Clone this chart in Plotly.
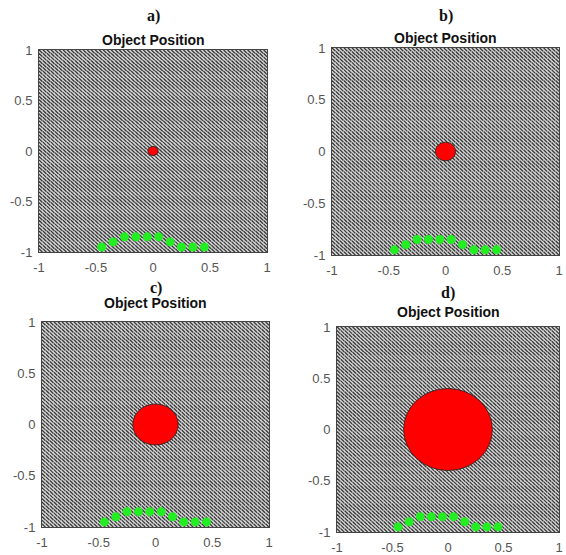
import numpy as np
import plotly.graph_objects as go

# ---- data ----
panel_labels = ["a)", "b)", "c)", "d)"]
panel_title = "Object Position"
object_x = [0, 0, 0, 0]
object_y = [0, 0, 0, 0]
object_radius = [0.045, 0.09, 0.2, 0.4]
green_x = [-0.45, -0.35, -0.25, -0.15, -0.05, 0.05, 0.15, 0.25, 0.35, 0.45]
green_y = [-0.95, -0.90, -0.85, -0.85, -0.85, -0.85, -0.90, -0.95, -0.95, -0.95]
tick_vals = [-1, -0.5, 0, 0.5, 1]
tick_text = ["-1", "-0.5", "0", "0.5", "1"]

# texture grid (background field of sensor points)
n_grid = 57
gx, gy = np.meshgrid(np.linspace(-0.985, 0.985, n_grid), np.linspace(-0.985, 0.985, n_grid))
gx = gx.ravel()
gy = gy.ravel()

# panel placement (pixels): left, right, top, bottom ; label y, title y
W, H = 566, 555
panels = [
    (39, 267, 50, 252, 16, 40),
    (332, 559, 48, 255, 16, 38),
    (42, 269, 322, 527, 288, 303),
    (337, 559, 327, 532, 293, 312),
]

fig = go.Figure()
for i, (l, r, t, b, ly, ty) in enumerate(panels):
    xa = "x" if i == 0 else f"x{i+1}"
    ya = "y" if i == 0 else f"y{i+1}"
    fig.add_trace(go.Scatter(
        x=gx, y=gy, mode="markers", xaxis=xa, yaxis=ya, hoverinfo="skip",
        marker=dict(symbol="line-nw", size=3.5, line=dict(color="#383838", width=1.3)),
        showlegend=False))
    fig.add_shape(type="circle", xref=xa, yref=ya,
                  x0=object_x[i] - object_radius[i], x1=object_x[i] + object_radius[i],
                  y0=object_y[i] - object_radius[i], y1=object_y[i] + object_radius[i],
                  fillcolor="#ff0000", line=dict(color="#202020", width=0.8), layer="above")
    fig.add_trace(go.Scatter(
        x=green_x, y=green_y, mode="markers", xaxis=xa, yaxis=ya,
        marker=dict(color="#22ee22", size=9, line=dict(width=0)), showlegend=False))
    axkw = dict(range=[-1, 1], tickvals=tick_vals, ticktext=tick_text, automargin=False,
                showgrid=False, zeroline=False, showline=True, mirror=True,
                linecolor="#444444", linewidth=1, ticks="outside", ticklen=3, tickcolor="rgba(0,0,0,0)",
                tickfont=dict(family="Liberation Sans", size=13, color="#555555"))
    xk = "xaxis" if i == 0 else f"xaxis{i+1}"
    yk = "yaxis" if i == 0 else f"yaxis{i+1}"
    fig.layout[xk] = go.layout.XAxis(domain=[l / W, r / W], anchor=ya, **axkw)
    fig.layout[yk] = go.layout.YAxis(domain=[1 - b / H, 1 - t / H], anchor=xa, **axkw)
    cx = (l + r) / 2 / W
    fig.add_annotation(x=cx, y=1 - ty / H, xref="paper", yref="paper", text=f"<b>{panel_title}</b>",
                       showarrow=False, font=dict(family="Liberation Sans", size=14, color="#111111"),
                       xanchor="center", yanchor="middle")
    fig.add_annotation(x=cx, y=1 - ly / H, xref="paper", yref="paper", text=f"<b>{panel_labels[i]}</b>",
                       showarrow=False, font=dict(family="Liberation Serif", size=16, color="#111111"),
                       xanchor="center", yanchor="middle")

fig.update_layout(width=W, height=H, margin=dict(l=0, r=0, t=0, b=0),
                  paper_bgcolor="white", plot_bgcolor="#d8d8d8", hovermode=False)
fig.write_html("out.html", config={"displayModeBar": False},
               post_script="document.body.style.margin='0px';document.body.style.overflow='hidden';")
